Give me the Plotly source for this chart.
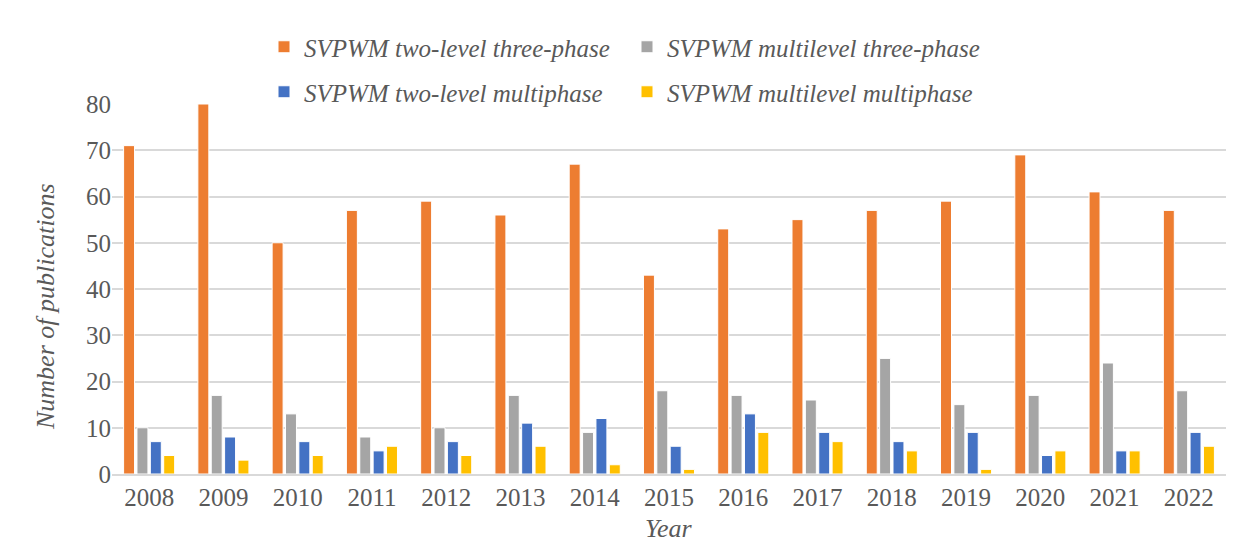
import plotly.graph_objects as go

years = ["2008", "2009", "2010", "2011", "2012", "2013", "2014", "2015",
         "2016", "2017", "2018", "2019", "2020", "2021", "2022"]
two_level_three_phase = [71, 80, 50, 57, 59, 56, 67, 43, 53, 55, 57, 59, 69, 61, 57]
multilevel_three_phase = [10, 17, 13, 8, 10, 17, 9, 18, 17, 16, 25, 15, 17, 24, 18]
two_level_multiphase = [7, 8, 7, 5, 7, 11, 12, 6, 13, 9, 7, 9, 4, 5, 9]
multilevel_multiphase = [4, 3, 4, 6, 4, 6, 2, 1, 9, 7, 5, 1, 5, 5, 6]

series = [
    ("SVPWM two-level three-phase", two_level_three_phase, "#ED7D31", "legend"),
    ("SVPWM multilevel three-phase", multilevel_three_phase, "#A5A5A5", "legend"),
    ("SVPWM two-level multiphase", two_level_multiphase, "#4472C4", "legend2"),
    ("SVPWM multilevel multiphase", multilevel_multiphase, "#FFC000", "legend2"),
]

FONT = "Liberation Serif"
FONT_I = "Tinos, Liberation Serif, serif"
GRAY = "#595959"

fig = go.Figure()
for name, vals, color, leg in series:
    fig.add_trace(go.Bar(
        x=years, y=vals, name=name, legend=leg,
        marker=dict(color=color, line=dict(color="white", width=1)),
    ))

# page places the figure at (8, 8)
OFF = 8
W, H = 1250 - OFF, 542 - OFF
L, R, T, B = 112 - OFF, 24, 104 - OFF, 68
pw, ph = W - L - R, H - T - B

def px2x(px):
    return (px - OFF - L) / pw

def py2y(py):
    return (H - B - (py - OFF)) / ph

def legend_cfg(y):
    return dict(
        orientation="h", xanchor="left", yanchor="middle",
        x=px2x(264), y=y,
        font=dict(family=FONT_I, size=25, color=GRAY, style="italic"),
        entrywidth=318, entrywidthmode="pixels",
        bgcolor="rgba(0,0,0,0)", tracegroupgap=0, itemclick=False,
    )

fig.update_layout(
    width=W, height=H,
    margin=dict(l=L, r=R, t=T, b=B),
    plot_bgcolor="white", paper_bgcolor="white",
    barmode="group", bargap=0.28, bargroupgap=0.18,
    legend=legend_cfg(py2y(47)),
    legend2=legend_cfg(py2y(92)),
    xaxis=dict(
        tickfont=dict(family=FONT, size=25, color=GRAY),
        showline=True, linecolor="#D9D9D9", linewidth=2,
        ticks="", showgrid=False,
    ),
    yaxis=dict(
        range=[0, 80], dtick=10,
        tickfont=dict(family=FONT, size=25, color=GRAY),
        showgrid=True, gridcolor="#D9D9D9", gridwidth=1.5,
        zeroline=False, ticks="", ticklen=0,
    ),
    annotations=[
        dict(text="Year", xref="paper", yref="paper", x=px2x(669), y=py2y(528),
             xanchor="center", yanchor="middle", showarrow=False,
             font=dict(family=FONT_I, size=26, color=GRAY, style="italic")),
        dict(text="Number of publications", xref="paper", yref="paper", x=px2x(45), y=py2y(307),
             xanchor="center", yanchor="middle", showarrow=False, textangle=-90,
             font=dict(family=FONT_I, size=26, color=GRAY, style="italic")),
    ],
    shapes=[dict(
        type="rect", xref="paper", yref="paper",
        x0=px2x(3), x1=px2x(1249), y0=py2y(545), y1=py2y(7),
        line=dict(color="#D9D9D9", width=1.5), fillcolor="rgba(0,0,0,0)", layer="below",
    )],
)

fig.write_html("out.html")
